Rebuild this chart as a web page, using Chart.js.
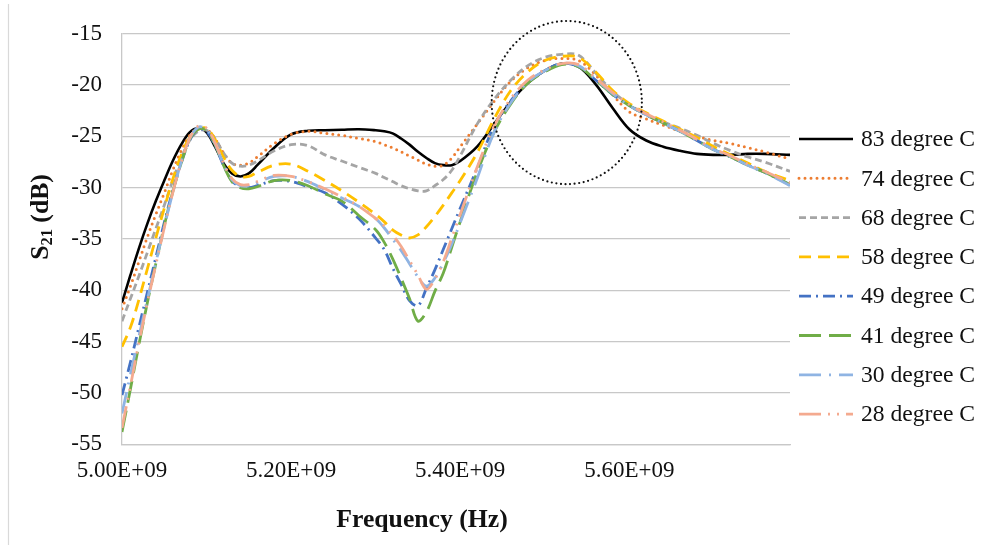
<!DOCTYPE html>
<html>
<head>
<meta charset="utf-8">
<script src="https://cdn.jsdelivr.net/npm/chart.js@4.4.1/dist/chart.umd.min.js"></script>
<style>
html,body{margin:0;padding:0;background:#ffffff;}
#wrap{width:987px;height:545px;position:relative;}
</style>
</head>
<body>
<div id="wrap"><canvas id="c" width="987" height="545"></canvas></div>
<script>
// ---------- DATA ----------
const freqGHz = [5.00,5.01,5.02,5.03,5.04,5.05,5.06,5.07,5.08,5.09,5.10,5.11,5.12,5.13,5.14,5.15,5.16,
  5.18,5.20,5.22,5.24,5.26,5.28,5.30,
  5.31,5.32,5.33,5.34,5.35,5.36,5.37,5.38,5.39,5.40,
  5.42,5.44,5.46,5.48,5.50,5.52,5.54,5.56,5.58,5.60,5.62,5.64,5.66,5.68,5.70,5.72,5.74,5.76,
  5.79];

const s83 = [-41.2,-38.5,-35.9,-33.5,-31.3,-29.3,-27.4,-25.8,-24.6,-24.2,-24.6,-26.0,-27.6,-28.6,-28.9,-28.6,-27.8,
  -26.1,-24.8,-24.45,-24.4,-24.35,-24.3,-24.4,
  -24.5,-24.7,-25.2,-25.8,-26.5,-27.1,-27.6,-27.8,-27.8,-27.4,
  -26.0,-23.8,-21.6,-19.8,-18.6,-17.9,-18.2,-19.9,-22.2,-24.3,-25.4,-26.0,-26.4,-26.7,-26.8,-26.8,-26.7,-26.7,
  -26.8];

const s74 = [-41.8,-39.6,-37.2,-34.8,-32.6,-30.5,-28.3,-26.4,-24.9,-24.2,-24.3,-25.2,-26.6,-27.6,-27.8,-27.6,-27.0,
  -25.7,-24.8,-24.5,-24.7,-24.9,-25.2,-25.5,
  -25.8,-26.1,-26.5,-26.9,-27.3,-27.7,-27.9,-27.8,-27.1,-26.0,
  -23.8,-21.6,-19.6,-18.3,-17.6,-17.4,-17.6,-19.0,-20.9,-22.6,-23.3,-23.9,-24.5,-25.0,-25.4,-25.7,-26.1,-26.5,
  -27.2];

const s68 = [-43.0,-40.8,-38.6,-36.3,-34.0,-31.7,-29.3,-27.1,-25.4,-24.5,-24.4,-25.2,-26.6,-27.6,-27.9,-27.8,-27.4,
  -26.4,-25.8,-25.9,-26.8,-27.4,-28.0,-28.6,
  -29.0,-29.4,-29.8,-30.1,-30.3,-30.3,-29.8,-29.2,-28.3,-26.9,
  -23.8,-21.4,-19.5,-18.1,-17.3,-17.0,-17.1,-18.8,-20.6,-21.9,-22.9,-23.6,-24.2,-24.9,-25.7,-26.4,-27.0,-27.5,
  -28.4];

const s58 = [-45.5,-43.6,-40.9,-37.9,-34.9,-32.0,-29.2,-26.8,-25.1,-24.3,-24.2,-25.3,-27.0,-28.3,-28.9,-28.9,-28.5,
  -27.8,-27.7,-28.4,-29.3,-30.3,-31.4,-32.6,
  -33.3,-34.1,-34.6,-34.9,-34.6,-33.8,-32.8,-31.7,-30.5,-29.3,
  -26.6,-23.3,-20.5,-18.7,-17.6,-17.2,-17.3,-18.7,-20.5,-21.8,-22.7,-23.5,-24.3,-25.1,-26.0,-26.8,-27.6,-28.4,
  -29.3];

const s49 = [-50.2,-47.0,-43.6,-40.2,-36.8,-33.4,-30.3,-27.6,-25.4,-24.3,-24.5,-25.9,-27.8,-29.3,-29.9,-30.0,-29.8,
  -29.3,-29.4,-29.9,-30.5,-31.6,-33.0,-34.9,
  -36.0,-37.8,-39.4,-41.0,-41.5,-39.8,-38.0,-36.0,-34.0,-32.0,
  -28.1,-24.0,-21.5,-19.7,-18.6,-17.9,-18.2,-19.5,-20.9,-22.0,-22.9,-23.7,-24.5,-25.4,-26.3,-27.0,-27.8,-28.5,
  -29.7];

const s41 = [-53.8,-49.6,-45.3,-41.2,-37.4,-33.7,-30.4,-27.6,-25.3,-24.3,-24.4,-25.8,-27.8,-29.4,-30.0,-30.1,-29.9,
  -29.3,-29.3,-29.8,-30.6,-31.3,-32.7,-34.1,
  -35.3,-36.9,-38.8,-40.8,-43.0,-42.1,-40.1,-38.3,-35.8,-33.3,
  -28.5,-24.6,-21.8,-19.8,-18.7,-18.0,-18.2,-19.5,-20.9,-22.0,-22.9,-23.7,-24.5,-25.4,-26.3,-27.0,-27.8,-28.5,
  -29.7];

const s30 = [-52.0,-48.2,-44.5,-40.9,-37.3,-33.8,-30.5,-27.5,-25.2,-24.1,-24.3,-25.7,-27.7,-29.2,-29.8,-29.8,-29.5,
  -28.9,-28.9,-29.4,-30.2,-31.0,-31.8,-33.0,
  -33.9,-35.0,-36.1,-37.4,-38.7,-39.6,-38.8,-37.3,-35.5,-33.4,
  -29.1,-24.6,-21.7,-19.7,-18.6,-17.9,-18.1,-19.4,-20.8,-22.0,-22.9,-23.7,-24.5,-25.4,-26.3,-27.0,-27.8,-28.5,
  -29.8];

const s28 = [-53.4,-49.3,-45.1,-41.2,-37.5,-33.9,-30.5,-27.5,-25.2,-24.0,-24.2,-25.6,-27.6,-29.1,-29.7,-29.7,-29.4,
  -28.8,-28.9,-29.4,-30.1,-30.9,-31.8,-33.0,
  -33.7,-34.6,-35.7,-37.1,-38.5,-39.9,-38.9,-37.2,-34.9,-32.6,
  -28.0,-24.0,-21.3,-19.5,-18.5,-17.9,-18.0,-19.3,-20.7,-21.9,-22.8,-23.6,-24.4,-25.3,-26.2,-26.9,-27.7,-28.4,
  -29.5];

const seriesLabels = ['83 degree C','74 degree C','68 degree C','58 degree C','49 degree C','41 degree C','30 degree C','28 degree C'];
const seriesValues = [s83, s74, s68, s58, s49, s41, s30, s28];

const yTickValues = [-55,-50,-45,-40,-35,-30,-25,-20,-15];
const xTickValuesGHz = [5.00, 5.20, 5.40, 5.60];
const xTickLabels = ['5.00E+09','5.20E+09','5.40E+09','5.60E+09'];
const xRangeGHz = [5.00, 5.79];

// annotation ellipse (data units)
const markCenterGHz = 5.526, markCenterDb = -21.7, markRadiusGHz = 0.0888, markRadiusDb = 7.95;

// ---------- STYLES ----------
const styles = [
  {color:'#000000', dash:[], cap:'butt', width:2.6},
  {color:'#ED7D31', dash:[0,6], cap:'round', width:3},
  {color:'#A5A5A5', dash:[7,4], cap:'butt', width:2.8},
  {color:'#FFC000', dash:[12,7], cap:'butt', width:2.8},
  {color:'#4472C4', dash:[12,5,2,5], cap:'butt', width:2.8},
  {color:'#70AD47', dash:[22,8], cap:'butt', width:2.8},
  {color:'#8FB4E3', dash:[22,8,2,8], cap:'butt', width:2.8},
  {color:'#F4AA8F', dash:[22,7,2,7,2,7], cap:'butt', width:2.8}
];

const datasets = seriesLabels.map((lab, i) => ({
  label: lab,
  data: freqGHz.map((f, j) => ({x: f * 1e9, y: seriesValues[i][j]})),
  borderColor: styles[i].color,
  backgroundColor: styles[i].color,
  borderWidth: styles[i].width,
  borderDash: styles[i].dash,
  borderCapStyle: styles[i].cap,
  pointRadius: 0,
  fill: false,
  tension: 0.35,
  order: seriesLabels.length - i
}));

const SERIF = "'Liberation Serif', 'Times New Roman', serif";

const extras = {
  id: 'extras',
  afterDatasetsDraw(chart) {
    const ctx = chart.ctx;
    const xs = chart.scales.x, ys = chart.scales.y;
    const cx = xs.getPixelForValue(markCenterGHz * 1e9);
    const cy = ys.getPixelForValue(markCenterDb);
    const rx = xs.getPixelForValue((markCenterGHz + markRadiusGHz) * 1e9) - cx;
    const ry = ys.getPixelForValue(markCenterDb - markRadiusDb) - cy;
    ctx.save();
    ctx.beginPath();
    ctx.ellipse(cx, cy, Math.abs(rx), Math.abs(ry), 0, 0, Math.PI * 2);
    ctx.setLineDash([0, 4.6]);
    ctx.lineCap = 'round';
    ctx.lineWidth = 2.2;
    ctx.strokeStyle = '#111111';
    ctx.stroke();
    ctx.restore();
  },
  afterDraw(chart) {
    const ctx = chart.ctx;
    ctx.save();
    ctx.strokeStyle = '#D9D9D9';
    ctx.lineWidth = 1.2;
    ctx.beginPath();
    ctx.moveTo(8.5, 4);
    ctx.lineTo(8.5, 545);
    ctx.stroke();

    // legend
    const lx0 = 799, lx1 = 853, tx = 861, ly0 = 139, lstep = 39.3;
    chart.data.datasets.forEach((ds, i) => {
      const y = ly0 + i * lstep;
      ctx.save();
      ctx.strokeStyle = ds.borderColor;
      ctx.lineWidth = ds.borderWidth;
      ctx.setLineDash(ds.borderDash);
      ctx.lineCap = ds.borderCapStyle;
      ctx.beginPath();
      ctx.moveTo(lx0, y);
      ctx.lineTo(lx1, y);
      ctx.stroke();
      ctx.restore();
      ctx.fillStyle = '#111111';
      ctx.font = '23.6px ' + SERIF;
      ctx.textAlign = 'left';
      ctx.textBaseline = 'middle';
      ctx.fillText(ds.label, tx, y + 1);
    });

    // x axis title
    ctx.fillStyle = '#111111';
    ctx.font = 'bold 25.7px ' + SERIF;
    ctx.textAlign = 'center';
    ctx.textBaseline = 'middle';
    ctx.fillText('Frequency (Hz)', 422, 520);

    // y axis title with subscript
    ctx.translate(41, 217);
    ctx.rotate(-Math.PI / 2);
    const big = 'bold 25.7px ' + SERIF, small = 'bold 16.5px ' + SERIF;
    ctx.font = big; const wS = ctx.measureText('S').width;
    ctx.font = small; const wSub = ctx.measureText('21').width;
    ctx.font = big; const wRest = ctx.measureText(' (dB)').width;
    const total = wS + wSub + wRest;
    let px = -total / 2;
    ctx.textAlign = 'left';
    ctx.textBaseline = 'middle';
    ctx.font = big; ctx.fillText('S', px, 0); px += wS;
    ctx.font = small; ctx.fillText('21', px, 7); px += wSub;
    ctx.font = big; ctx.fillText(' (dB)', px, 0);
    ctx.restore();
  }
};

new Chart(document.getElementById('c'), {
  type: 'line',
  data: { datasets },
  options: {
    responsive: false,
    animation: false,
    devicePixelRatio: 1,
    layout: { padding: { left: 0, top: 31.5, right: 197, bottom: 0 } },
    plugins: { legend: { display: false }, tooltip: { enabled: false } },
    scales: {
      x: {
        type: 'linear',
        min: xRangeGHz[0] * 1e9,
        max: xRangeGHz[1] * 1e9,
        grid: { display: false, drawTicks: false },
        border: { display: true, color: '#C8C8C8', width: 1.3 },
        afterBuildTicks: (scale) => { scale.ticks = xTickValuesGHz.map(v => ({ value: v * 1e9 })); },
        ticks: {
          color: '#111111',
          font: { family: SERIF, size: 23 },
          padding: 13,
          maxRotation: 0,
          autoSkip: false,
          callback: (value) => {
            const idx = xTickValuesGHz.findIndex(v => Math.abs(v * 1e9 - value) < 1e3);
            return idx >= 0 ? xTickLabels[idx] : '';
          }
        },
        afterFit: (scale) => { scale.height = 100.7; }
      },
      y: {
        type: 'linear',
        min: yTickValues[0],
        max: yTickValues[yTickValues.length - 1],
        afterBuildTicks: (scale) => { scale.ticks = yTickValues.map(v => ({ value: v })); },
        grid: { color: '#C8C8C8', lineWidth: 1.3, drawTicks: false },
        border: { display: true, color: '#C8C8C8', width: 1.3 },
        ticks: {
          color: '#111111',
          font: { family: SERIF, size: 23 },
          padding: 20,
          callback: (v) => String(v)
        },
        afterFit: (scale) => { scale.width = 122; }
      }
    }
  },
  plugins: [extras]
});
</script>
</body>
</html>
